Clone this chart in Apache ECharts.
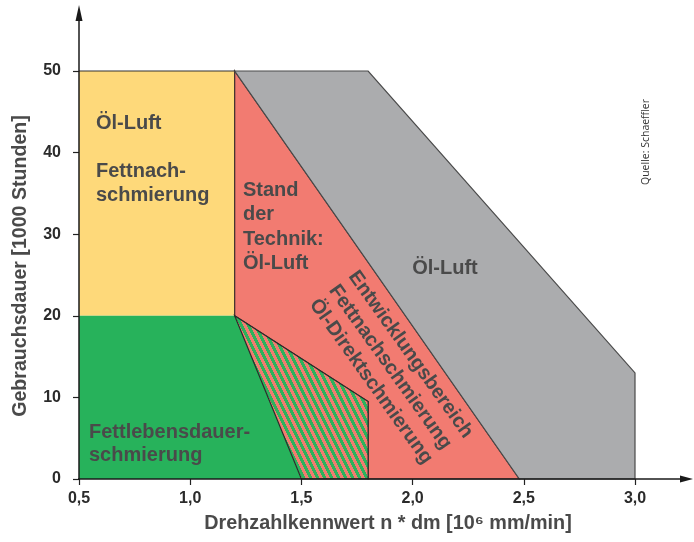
<!DOCTYPE html>
<html>
<head>
<meta charset="utf-8">
<script src="https://cdn.jsdelivr.net/npm/echarts@6/dist/echarts.min.js"></script>
<style>
  html, body { margin: 0; padding: 0; background: #fff; }
  #chart { width: 694px; height: 542px; }
</style>
</head>
<body>
<div id="chart"></div>
<script>
// Bereiche als Polygone [Drehzahlkennwert, Gebrauchsdauer]
var oelLuftFett = [[0.5, 20], [0.5, 50], [1.2, 50], [1.2, 20]];
var fettLebensdauer = [[0.5, 0], [0.5, 20], [1.2, 20], [1.5, 0]];
var uebergang = [[1.2, 20], [1.8, 9.5], [1.8, 0], [1.5, 0]];
var entwicklung = [[1.2, 20], [1.2, 50], [2.48, 0], [1.8, 0], [1.8, 9.5]];
var oelLuft = [[1.2, 50], [1.8, 50], [3.0, 13], [3.0, 0], [2.48, 0]];
var topEdge = [[0.5, 50], [1.2, 50]];

var xTicks = [0.5, 1.0, 1.5, 2.0, 2.5, 3.0];
var yTicks = [0, 10, 20, 30, 40, 50];

var FONT = '"Liberation Sans", Arial, sans-serif';
var TXT = '#4a4a4a';

// schraffur gruen/rot
function makeHatch() {
	var w = 7, h = 14;
	var c = document.createElement('canvas');
	c.width = w; c.height = h;
	var ctx = c.getContext('2d');
	var img = ctx.createImageData(w, h);
	for (var y = 0; y < h; y++) {
		for (var x = 0; x < w; x++) {
			var u = ((x - y * w / h) % w + w) % w;
			var col = u < w / 2 ? [45, 178, 92] : [240, 124, 112];
			var i = (y * w + x) * 4;
			img.data[i] = col[0]; img.data[i + 1] = col[1]; img.data[i + 2] = col[2]; img.data[i + 3] = 255;
		}
	}
	ctx.putImageData(img, 0, 0);
	return c;
}

function area(name, pts, fill, stroke, z) {
	return {
		type: 'custom',
		name: name,
		silent: true,
		clip: false,
		z: z,
		data: [pts[0]],
		renderItem: function (params, api) {
			return {
				type: 'polygon',
				shape: { points: pts.map(function (p) { return api.coord(p); }) },
				style: { fill: fill, stroke: stroke || null, lineWidth: stroke ? 1.2 : 0 }
			};
		}
	};
}

function edge(name, pts, z) {
	return {
		type: 'custom',
		name: name,
		silent: true,
		clip: false,
		z: z,
		data: [pts[0]],
		renderItem: function (params, api) {
			return {
				type: 'polyline',
				shape: { points: pts.map(function (p) { return api.coord(p); }) },
				style: { fill: null, stroke: '#333', lineWidth: 1.2 }
			};
		}
	};
}

var chart = echarts.init(document.getElementById('chart'), null, { renderer: 'canvas' });

var option = {
	animation: false,
	backgroundColor: '#fff',
	grid: { left: 79, right: 59, top: 71, bottom: 63 },
	xAxis: {
		type: 'value',
		min: xTicks[0],
		max: xTicks[xTicks.length - 1],
		interval: 0.5,
		axisLine: { show: false },
		axisTick: { show: true, length: 6, lineStyle: { color: '#222', width: 1.2 } },
		splitLine: { show: false },
		axisLabel: {
			margin: 12,
			color: '#2b2b2b',
			fontFamily: FONT,
			fontWeight: 'bold',
			fontSize: 16,
			formatter: function (v) { return v.toFixed(1).replace('.', ','); }
		}
	},
	yAxis: {
		type: 'value',
		min: yTicks[0],
		max: yTicks[yTicks.length - 1],
		interval: 10,
		axisLine: { show: false },
		axisTick: { show: true, length: 6, lineStyle: { color: '#222', width: 1.2 } },
		splitLine: { show: false },
		axisLabel: {
			margin: 18,
			color: '#2b2b2b',
			fontFamily: FONT,
			fontWeight: 'bold',
			fontSize: 16
		}
	},
	series: [
		area('Öl-Luft / Fettnachschmierung', oelLuftFett, '#fed97a', null, 2),
		area('Fettlebensdauerschmierung', fettLebensdauer, '#27b25b', null, 3),
		area('Stand der Technik', entwicklung, '#f27b71', '#3a2a28', 4),
		area('Übergang', uebergang, { image: makeHatch(), repeat: 'repeat' }, '#2a2a2a', 5),
		area('Öl-Luft', oelLuft, '#abacae', '#4a4a4a', 4),
		edge('Oberkante', topEdge, 6)
	],
	graphic: [
		// Achsen mit Pfeilen
		{ type: 'line', z: 100, shape: { x1: 79, y1: 480, x2: 79, y2: 16 }, style: { stroke: '#1a1a1a', lineWidth: 1.5 } },
		{ type: 'polygon', z: 100, shape: { points: [[79, 5], [75.5, 21], [82.5, 21]] }, style: { fill: '#1a1a1a' } },
		{ type: 'line', z: 100, shape: { x1: 78, y1: 479, x2: 684, y2: 479 }, style: { stroke: '#1a1a1a', lineWidth: 1.5 } },
		{ type: 'polygon', z: 100, shape: { points: [[693, 479], [680, 475.5], [680, 482.5]] }, style: { fill: '#1a1a1a' } },
		// Achsentitel
		{ type: 'text', z: 100, x: 21, y: 266, rotation: Math.PI / 2,
			style: { text: 'Gebrauchsdauer [1000 Stunden]', fill: '#4a4a4a', font: 'bold 19.6px ' + FONT, textAlign: 'center', textVerticalAlign: 'middle' } },
		{ type: 'text', z: 100, x: 388, y: 524,
			style: { text: 'Drehzahlkennwert n * dm [10⁶ mm/min]', fill: '#4a4a4a', font: 'bold 19.8px ' + FONT, textAlign: 'center', textVerticalAlign: 'middle' } },
		// Beschriftungen der Bereiche
		{ type: 'text', z: 100, x: 96, y: 159,
			style: { text: 'Öl-Luft\n\nFettnach-\nschmierung', fill: TXT, font: 'bold 20px ' + FONT, lineHeight: 24, textAlign: 'left', textVerticalAlign: 'middle' } },
		{ type: 'text', z: 100, x: 243, y: 227,
			style: { text: 'Stand\nder\nTechnik:\nÖl-Luft', fill: TXT, font: 'bold 20px ' + FONT, lineHeight: 24.5, textAlign: 'left', textVerticalAlign: 'middle' } },
		{ type: 'text', z: 100, x: 89, y: 444,
			style: { text: 'Fettlebensdauer-\nschmierung', fill: TXT, font: 'bold 20px ' + FONT, lineHeight: 23, textAlign: 'left', textVerticalAlign: 'middle' } },
		{ type: 'text', z: 100, x: 445, y: 268,
			style: { text: 'Öl-Luft', fill: TXT, font: 'bold 20px ' + FONT, textAlign: 'center', textVerticalAlign: 'middle' } },
		{ type: 'text', z: 100, x: 333, y: 287, rotation: -54.5 * Math.PI / 180,
			style: { text: 'Entwicklungsbereich\nFettnachschmierung\nÖl-Direktschmierung', fill: TXT, font: 'bold 20px ' + FONT, lineHeight: 24, textAlign: 'left', textVerticalAlign: 'middle' } },
		// Quelle
		{ type: 'text', z: 100, x: 646, y: 142, rotation: Math.PI / 2,
			style: { text: 'Quelle: Schaeffler', fill: '#333', font: '10.5px "Open Sans", "Noto Sans", sans-serif', textAlign: 'center', textVerticalAlign: 'middle' } }
	]
};

chart.setOption(option);
</script>
</body>
</html>
